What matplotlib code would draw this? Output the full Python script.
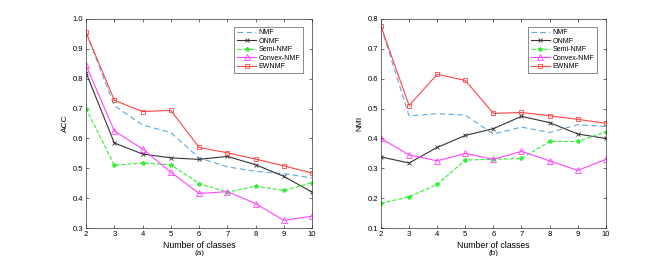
import numpy as np
import matplotlib
matplotlib.use("Agg")
from matplotlib import pyplot as plt

matplotlib.rcParams.update({
    'font.family': ['Liberation Sans', 'DejaVu Sans'],
    'font.size': 5.5,
    'xtick.direction': 'in',
    'ytick.direction': 'in',
    'xtick.top': True,
    'ytick.right': True,
    'xtick.major.size': 2,
    'ytick.major.size': 2,
    'axes.linewidth': 0.5,
    'xtick.major.width': 0.4,
    'ytick.major.width': 0.4,
})

classes = [2, 3, 4, 5, 6, 7, 8, 9, 10]

acc_nmf = [0.955, 0.71, 0.645, 0.62, 0.535, 0.505, 0.49, 0.482, 0.468]
acc_onmf = [0.82, 0.585, 0.548, 0.535, 0.53, 0.54, 0.512, 0.473, 0.42]
acc_semi = [0.70, 0.51, 0.518, 0.512, 0.449, 0.42, 0.44, 0.426, 0.452]
acc_convex = [0.845, 0.625, 0.565, 0.487, 0.416, 0.422, 0.382, 0.326, 0.34]
acc_ewnmf = [0.955, 0.728, 0.69, 0.694, 0.57, 0.552, 0.531, 0.508, 0.484]

nmi_nmf = [0.775, 0.475, 0.483, 0.478, 0.415, 0.438, 0.42, 0.446, 0.44]
nmi_onmf = [0.338, 0.318, 0.37, 0.41, 0.433, 0.474, 0.453, 0.415, 0.40]
nmi_semi = [0.183, 0.205, 0.246, 0.328, 0.33, 0.333, 0.39, 0.39, 0.422]
nmi_convex = [0.40, 0.345, 0.325, 0.35, 0.33, 0.357, 0.325, 0.293, 0.33]
nmi_ewnmf = [0.775, 0.51, 0.615, 0.594, 0.484, 0.487, 0.476, 0.464, 0.451]

names = ['NMF', 'ONMF', 'Semi-NMF', 'Convex-NMF', 'EWNMF']
styles = [
    dict(color='#5fa8dc', ls=(0, (5, 3)), marker=None),
    dict(color='#333333', ls='-', marker='x', ms=2.5, mew=0.6),
    dict(color='#33ee33', ls='--', marker='*', ms=3),
    dict(color='#ff44ff', ls='-', marker='^', ms=4, mfc='none', mew=0.6),
    dict(color='#ff4444', ls='-', marker='s', ms=3.5, mfc='none', mew=0.6),
]

fig = plt.figure(figsize=(6.69, 2.56), dpi=100)
ax1 = fig.add_axes([0.1286, 0.109, 0.338, 0.817])
ax2 = fig.add_axes([0.5695, 0.109, 0.336, 0.817])

panels = [
    (ax1, [acc_nmf, acc_onmf, acc_semi, acc_convex, acc_ewnmf], 'ACC', (0.3, 1.0), '(a)'),
    (ax2, [nmi_nmf, nmi_onmf, nmi_semi, nmi_convex, nmi_ewnmf], 'NMI', (0.1, 0.8), '(b)'),
]

for ax, series, ylab, ylim, tag in panels:
    for vals, name, st in zip(series, names, styles):
        ax.plot(classes, vals, label=name, lw=0.8, **st)
    ax.set_xlim(2, 10)
    ax.set_ylim(*ylim)
    ax.set_xticks(classes)
    ax.set_yticks(np.round(np.arange(ylim[0], ylim[1] + 0.01, 0.1), 1))
    ax.set_ylabel(ylab, labelpad=3, fontsize=6)
    ax.set_xlabel('Number of classes', labelpad=2, fontsize=6.3)
    ax.text(0.5, -0.12, tag, transform=ax.transAxes, ha='center', va='center', fontsize=5.8)
    ax.tick_params(pad=2)
    for s in ax.spines.values():
        s.set_color('#333333')
    leg = ax.legend(loc='upper right', fontsize=5, frameon=True, fancybox=False,
                    handlelength=2.8, handletextpad=0.3, borderpad=0.4, labelspacing=0.2,
                    bbox_to_anchor=(0.975, 0.98))
    leg.get_frame().set_edgecolor('#333333')
    leg.get_frame().set_linewidth(0.5)

plt.savefig("out.png", dpi=100)
